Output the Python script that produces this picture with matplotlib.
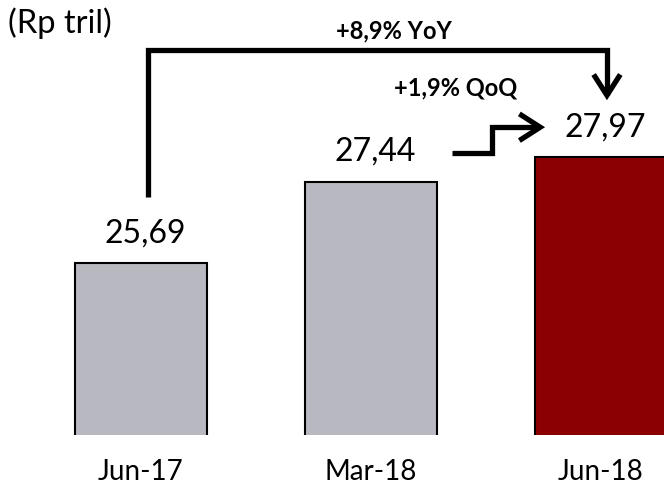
import matplotlib.pyplot as plt
from matplotlib.patches import FancyArrowPatch
from matplotlib.path import Path

# data (Rp tril)
periods = ["Jun-17", "Mar-18", "Jun-18"]
values = [25.69, 27.44, 27.97]
value_labels = ["25,69", "27,44", "27,97"]
bar_colors = ["#b8b8c0", "#b8b8c0", "#8b0000"]
yoy_label = "+8,9% YoY"
qoq_label = "+1,9% QoQ"

plt.rcParams["font.family"] = ["Lato", "DejaVu Sans"]

fig = plt.figure(figsize=(6.64, 4.9), dpi=100)
ax = fig.add_axes([0, 0.112, 1, 0.888])

x = list(range(len(periods)))
ax.bar(x, values, width=0.57, color=bar_colors, edgecolor="black", linewidth=1.5, bottom=0)

ax.set_ylim(22, 31.355)
ax.set_xlim(-0.613, 2.274)

for xi, v, lab in zip(x, values, value_labels):
    ax.text(xi + 0.02, v + 0.65, lab, ha="center", va="center", fontsize=23)

ax.set_xticks(x)
ax.set_xticklabels(periods, fontsize=20)
ax.tick_params(axis="x", length=0, pad=17)
ax.set_yticks([])
for s in ax.spines.values():
    s.set_visible(False)

fig.text(0.012, 0.952, "(Rp tril)", fontsize=23.5, ha="left", va="center")

# YoY arrow: from above Jun-17 label across to Jun-18
yoy_path = Path([(0.03, 27.12), (0.03, 30.28), (2.026, 30.28), (2.026, 29.2)])
qoq_path = Path([(1.352, 28.06), (1.526, 28.06), (1.526, 28.62), (1.757, 28.62)])
for p in (yoy_path, qoq_path):
    arr = FancyArrowPatch(path=p, arrowstyle="->,head_length=0.5,head_width=0.32",
                          mutation_scale=30, lw=3.8, color="black",
                          joinstyle="miter", capstyle="butt")
    ax.add_patch(arr)

ax.text(1.1, 30.7, yoy_label, fontsize=17, fontweight="bold", ha="center", va="center")
ax.text(1.37, 29.47, qoq_label, fontsize=17, fontweight="bold", ha="center", va="center")

fig.savefig("out.png", dpi=100)
